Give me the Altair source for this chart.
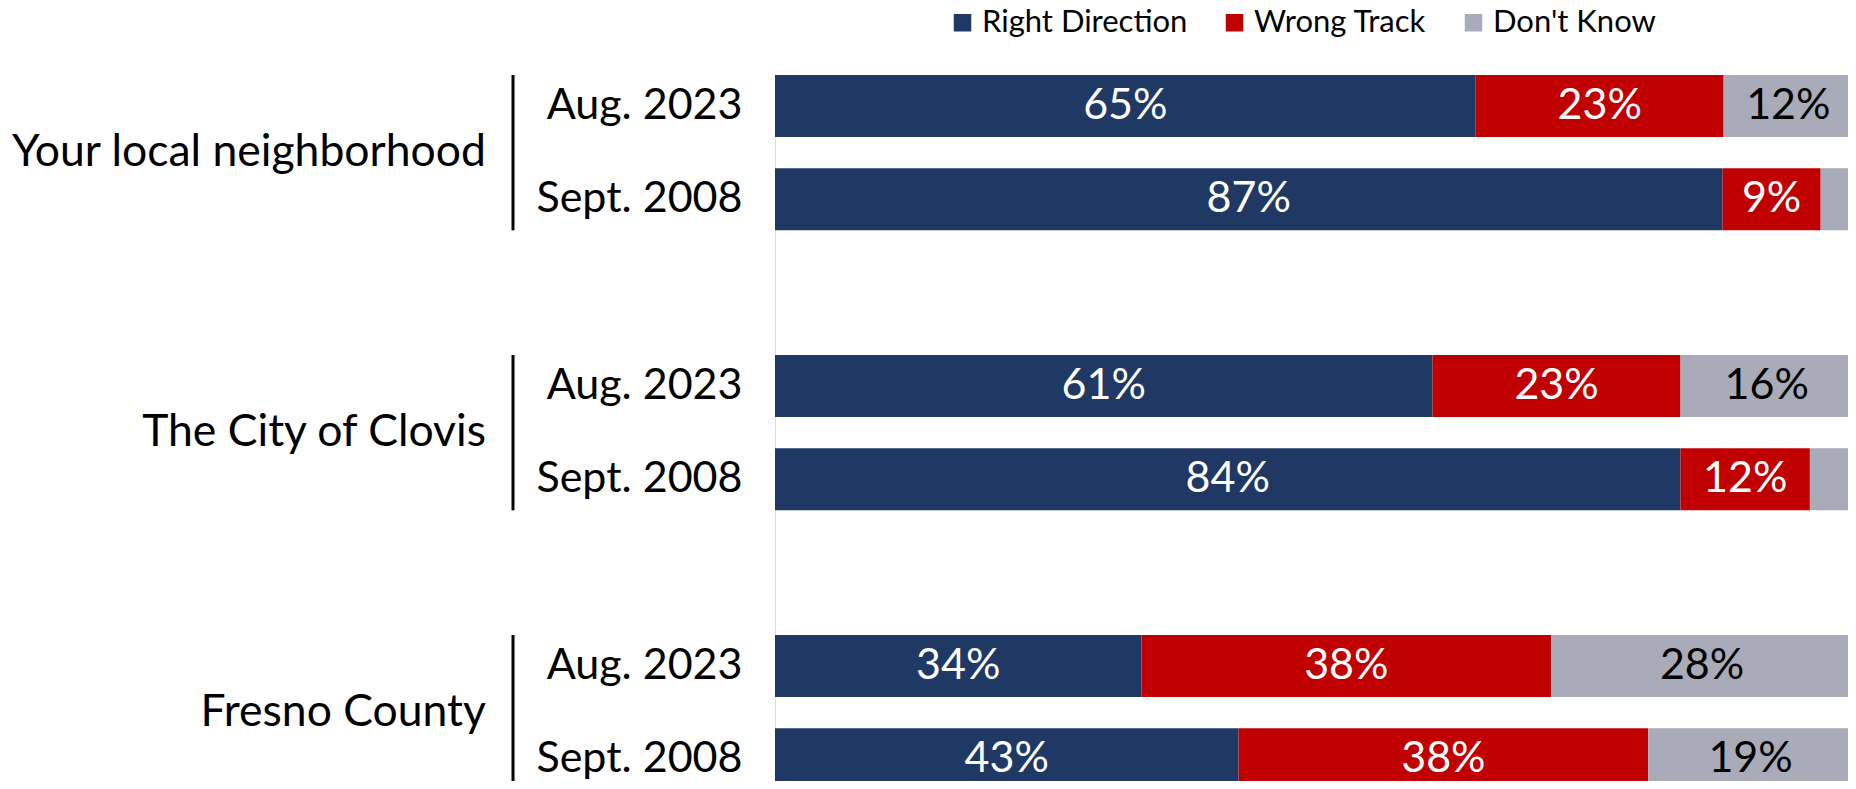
import altair as alt
import pandas as pd

# ---- data ----
groups = ["Your local neighborhood", "The City of Clovis", "Fresno County"]
periods = ["Aug. 2023", "Sept. 2008"]
responses = ["Right Direction", "Wrong Track", "Don't Know"]

right_direction = [65, 87.9, 61, 84, 34, 43]
wrong_track = [23, 9.1, 23, 12, 38, 38]
dont_know = [12, 3.0, 16, 4, 28, 19]

right_labels = ["65%", "87%", "61%", "84%", "34%", "43%"]
wrong_labels = ["23%", "9%", "23%", "12%", "38%", "38%"]
dont_know_labels = ["12%", "", "16%", "", "28%", "19%"]

colors = ["#1F3864", "#C00000", "#A9ABB9"]
FONT = "Lato"

# ---- build tables ----
records = []
domain = []
group_rows = []
i = 0
for gi, g in enumerate(groups):
    if gi > 0:
        domain.append(" " * gi)
    keys = []
    for p in periods:
        key = f"{g}|{p}"
        keys.append(key)
        domain.append(key)
        vals = [right_direction[i], wrong_track[i], dont_know[i]]
        labs = [right_labels[i], wrong_labels[i], dont_know_labels[i]]
        for ri, r in enumerate(responses):
            records.append({"key": key, "response": r, "order": ri,
                            "value": vals[ri], "label": labs[ri]})
        i += 1
    group_rows.append({"group": g, "first": keys[0], "last": keys[-1]})

df = pd.DataFrame(records)
gdf = pd.DataFrame(group_rows)

yscale = alt.Scale(domain=domain, paddingInner=0.336, paddingOuter=0, range=[0, 715.3])

base = alt.Chart(df).transform_stack(
    stack="value", groupby=["key"], as_=["x0", "x1"],
    sort=[alt.SortField("order", order="ascending")]
).transform_calculate(mid="(datum.x0 + datum.x1) / 2")

bars = base.mark_bar().encode(
    y=alt.Y("key:N", scale=yscale, title=None,
            axis=alt.Axis(labelExpr="length(split(datum.label, '|')) > 1 ? split(datum.label, '|')[1] : ''",
                          ticks=False, tickSize=0, domain=False, labelPadding=33,
                          labelFont=FONT, labelFontSize=43, labelColor="black",
                          labelLimit=500, grid=False)),
    x=alt.X("x0:Q", scale=alt.Scale(domain=[0, 100]), axis=None),
    x2="x1:Q",
    color=alt.Color("response:N", scale=alt.Scale(domain=responses, range=colors),
                    legend=alt.Legend(title=None, orient="none", legendX=172, legendY=-68,
                                      direction="horizontal", symbolType="square",
                                      symbolSize=306, symbolStrokeWidth=0,
                                      labelFont=FONT, labelFontSize=31, labelColor="black",
                                      labelLimit=500, labelOffset=4, columnPadding=31,
                                      padding=0)),
    order=alt.Order("order:Q"),
)

texts = base.mark_text(font=FONT, fontSize=43, align="center", baseline="middle").encode(
    y=alt.Y("key:N", scale=yscale, title=None),
    x=alt.X("mid:Q", scale=alt.Scale(domain=[0, 100])),
    text="label:N",
    color=alt.condition("datum.response == \"Don't Know\"", alt.value("black"), alt.value("white")),
)

rules = alt.Chart(gdf).mark_rule(strokeWidth=3, color="black", yOffset=-31, y2Offset=31).encode(
    x=alt.value(-262),
    y=alt.Y("first:N", scale=yscale, title=None),
    y2="last:N",
)

glabels = alt.Chart(gdf).mark_text(font=FONT, fontSize=44.5, align="right", baseline="middle",
                                   yOffset=46.67, color="black").encode(
    x=alt.value(-289),
    y=alt.Y("first:N", scale=yscale, title=None),
    text="group:N",
)

chart = alt.layer(bars, texts, rules, glabels).properties(
    width=1078, height=706,
    autosize=alt.AutoSizeParams(type="none"),
    padding={"left": 767, "top": 67, "right": -5, "bottom": 0},
).configure_view(stroke=None).configure(background="white")

chart.save("out.html", embed_options={"renderer": "svg", "actions": False})
